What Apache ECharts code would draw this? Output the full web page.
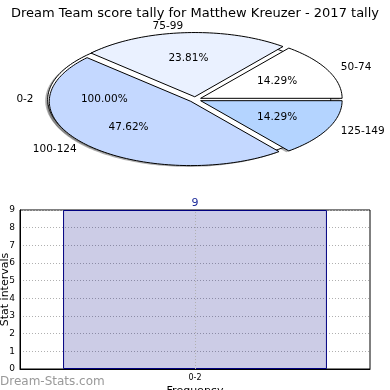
<!DOCTYPE html>
<html>
<head>
<meta charset="utf-8">
<script src="https://cdn.jsdelivr.net/npm/echarts@6/dist/echarts.min.js"></script>
<style>html,body{margin:0;padding:0;background:#fff}#c{width:390px;height:390px}</style>
</head>
<body>
<div id="c"></div>
<script>
// ---- data ----
var titleText = 'Dream Team score tally for Matthew Kreuzer - 2017 tally';
var sliceLabels = ['50-74', '75-99', '100-124', '125-149'];
var sliceValues = [3, 5, 10, 3];
var sliceColors = ['#ffffff', '#eaf1ff', '#c4d8ff', '#b4d4ff'];
var baseLabel = '0-2';
var baseShare = 100; // percent shown for the base (full) slice
var barCategories = ['0-2'];
var barValues = [9];
var yTicks = [0, 1, 2, 3, 4, 5, 6, 7, 8, 9];

// ---- pie layout ----
var PCX = 195.2, PCY = 99.5, PR = 141.5, PK = 0.454, PD = 6;
var total = sliceValues.reduce(function (a, b) { return a + b; }, 0);
var cum = [];
(function () { var s = 0; for (var i = 0; i < sliceValues.length; i++) { cum.push(s); s += sliceValues[i]; } })();
var FONT = '"DejaVu Sans", sans-serif';
var LFONT = '10.5px ' + FONT;

function ellPts(ex, ey, t1, t2, withCenter) {
  var pts = [];
  if (withCenter) pts.push([ex, ey]);
  var n = Math.max(8, Math.ceil((t2 - t1) / 1.5));
  for (var j = 0; j <= n; j++) {
    var t = (t1 + (t2 - t1) * j / n) * Math.PI / 180;
    pts.push([ex + PR * Math.cos(t), ey - PK * PR * Math.sin(t)]);
  }
  return pts;
}
function wedgeGeom(i) {
  var t1 = 360 * cum[i] / total, t2 = t1 + 360 * sliceValues[i] / total;
  var tm = (t1 + t2) / 2 * Math.PI / 180;
  var ex = PCX + PD * Math.cos(tm), ey = PCY - PK * PD * Math.sin(tm);
  return { t1: t1, t2: t2, tm: tm, ex: ex, ey: ey };
}
var SHX = -2.5, SHY = 1.3;

function renderShadow(params, api) {
  var i = params.dataIndex;
  var pts;
  if (i === 0) {
    pts = ellPts(PCX - PD, PCY, 0, 360, false);
  } else {
    var g = wedgeGeom(i - 1);
    pts = ellPts(g.ex, g.ey, g.t1, g.t2, true);
  }
  pts = pts.map(function (p) { return [p[0] + SHX, p[1] + SHY]; });
  return { type: 'polygon', shape: { points: pts }, style: { fill: 'rgba(77,77,77,0.45)', stroke: null } };
}
function renderBase(params, api) {
  var pts = ellPts(PCX - PD, PCY, 0, 360, false);
  return { type: 'polygon', shape: { points: pts }, style: { fill: '#ffffff', stroke: '#000', lineWidth: 1 } };
}
function renderBaseLabels(params, api) {
  var tm = Math.PI; // full slice, mid angle 180
  var ex = PCX + PD * Math.cos(tm), ey = PCY;
  var lx = ex + 1.1 * PR * Math.cos(tm), ly = ey;
  var px = ex + 0.6 * PR * Math.cos(tm), py = ey;
  return {
    type: 'group', children: [
      { type: 'text', style: { text: api.value(1).toFixed(2) + '%', x: px, y: py, align: 'center', verticalAlign: 'middle', font: LFONT, fill: '#000' } },
      { type: 'text', style: { text: baseLabel, x: lx, y: ly, align: 'right', verticalAlign: 'middle', font: LFONT, fill: '#000' } }
    ]
  };
}
function renderWedge(params, api) {
  var i = params.dataIndex;
  var g = wedgeGeom(i);
  var pts = ellPts(g.ex, g.ey, g.t1, g.t2, true);
  var c = Math.cos(g.tm), s = Math.sin(g.tm);
  var lx = g.ex + 1.1 * PR * c, ly = g.ey - PK * 1.1 * PR * s;
  var px = g.ex + 0.6 * PR * c, py = g.ey - PK * 0.6 * PR * s;
  var pct = (api.value(1) / total * 100).toFixed(2) + '%';
  return {
    type: 'group', children: [
      { type: 'polygon', shape: { points: pts }, style: { fill: sliceColors[i], stroke: '#000', lineWidth: 1 } },
      { type: 'text', z2: 10, style: { text: pct, x: px, y: py, align: 'center', verticalAlign: 'middle', font: LFONT, fill: '#000' } },
      { type: 'text', z2: 10, style: { text: sliceLabels[i], x: lx, y: ly, align: c >= 0 ? 'left' : 'right', verticalAlign: 'middle', font: LFONT, fill: '#000' } }
    ]
  };
}

var chart = echarts.init(document.getElementById('c'), null, { renderer: 'canvas' });
var option = {
  animation: false,
  backgroundColor: '#fff',
  title: {
    text: titleText, left: 'center', top: 2,
    textStyle: { fontFamily: FONT, fontSize: 13, fontWeight: 'normal', color: '#000' }
  },
  graphic: [{
    type: 'text', left: 0, bottom: 2,
    style: { text: 'Dream-Stats.com', font: '12px ' + FONT, fill: '#999999' }
  }],
  grid: {
    left: 20, right: 20, top: 210, bottom: 21, show: true, borderColor: '#000', borderWidth: 1,
    backgroundColor: 'transparent', containLabel: false, outerBoundsMode: 'none'
  },
  xAxis: {
    type: 'category', data: barCategories,
    name: 'Frequency', nameLocation: 'middle', nameGap: 17, nameMoveOverlap: false,
    nameTextStyle: { fontFamily: FONT, fontSize: 11, color: '#000' },
    axisLine: { lineStyle: { color: '#000' } },
    axisTick: { show: false },
    axisLabel: { fontFamily: FONT, fontSize: 8, color: '#000', margin: 5 },
    splitLine: { show: false }
  },
  yAxis: {
    type: 'value', min: 0, max: 9, interval: 1,
    name: 'Stat intervals', nameLocation: 'middle', nameGap: 9, nameMoveOverlap: false,
    nameTextStyle: { fontFamily: FONT, fontSize: 11, color: '#000' },
    axisLine: { show: true, lineStyle: { color: '#000' } },
    axisTick: { show: false },
    axisLabel: { fontFamily: FONT, fontSize: 9, color: '#000', margin: 5 },
    splitLine: { show: true, lineStyle: { color: '#b0b0b0', type: [1, 2], width: 1 } }
  },
  series: [
    {
      type: 'bar', data: barValues, barWidth: '75.4%',
      itemStyle: { color: 'rgba(0,0,128,0.2)', borderColor: '#000080', borderWidth: 1 },
      label: { show: true, position: 'top', distance: 1, color: '#1c2a9a', fontFamily: FONT, fontSize: 11 },
      markLine: {
        silent: true, symbol: 'none', label: { show: false },
        lineStyle: { color: '#b0b0b0', type: [1, 2], width: 1 },
        data: [{ xAxis: barCategories[0] }]
      }
    },
    {
      type: 'custom', coordinateSystem: 'none', z: 1, silent: true,
      renderItem: renderShadow,
      data: [[0, baseShare]].concat(sliceValues.map(function (v, i) { return [i + 1, v]; }))
    },
    {
      type: 'custom', coordinateSystem: 'none', z: 2, silent: true,
      renderItem: renderBase,
      data: [[0, baseShare]]
    },
    {
      type: 'custom', coordinateSystem: 'none', z: 3, silent: true,
      renderItem: renderWedge,
      data: sliceValues.map(function (v, i) { return [i, v]; })
    },
    {
      type: 'custom', coordinateSystem: 'none', z: 4, silent: true,
      renderItem: renderBaseLabels,
      data: [[0, baseShare]]
    }
  ]
};
chart.setOption(option);
</script>
</body>
</html>
